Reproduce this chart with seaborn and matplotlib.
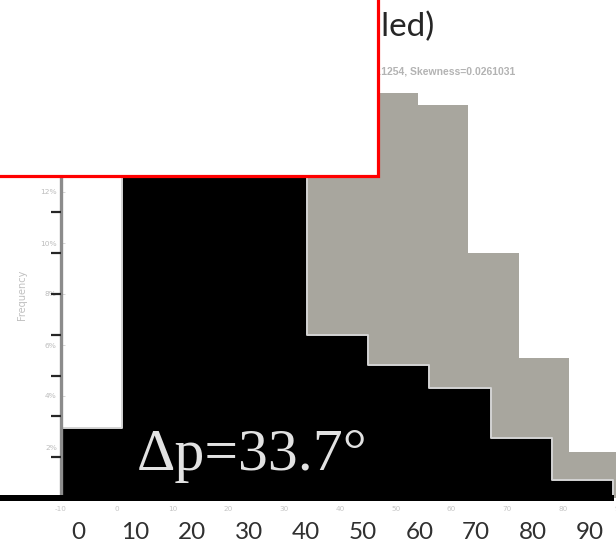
import numpy as np
import pandas as pd
import matplotlib
matplotlib.use("Agg")
import matplotlib.pyplot as plt
from matplotlib.patches import Rectangle
import seaborn as sns

# Reference histogram (grey): 9-degree bins from 0 to 90, in percent
gray_edges = [0, 9, 18, 27, 36, 45, 54, 63, 72, 81, 90]
gray_pct = [1.9, 6.0, 10.5, 16.0, 17.2, 15.9, 15.4, 9.6, 5.5, 1.8]

# Measured histogram (black): 11-degree bins from -10 to 89, in percent
black_edges = [-10, 1, 12, 23, 34, 45, 56, 67, 78, 89]
black_pct = [2.75, 24.0, 27.0, 26.0, 6.4, 5.2, 4.3, 2.35, 0.7]

pct_ticks = [2, 4, 6, 8, 10, 12, 14, 16, 18]
count_ticks = [1, 2, 3, 4, 5, 6, 7, 8, 9, 10, 11, 12]
small_xticks = list(range(-10, 100, 10))
big_xticks = list(range(0, 100, 10))

title_text = "Distribution (Scaled)"
stats_text = "Mean=45.0213, StdDev=18.1254, Skewness=0.0261031"
delta_text = "Δp=33.7°"

sns.set_theme(style="white")
plt.rcParams["font.family"] = ["DejaVu Sans"]

W, H = 616, 547
fig = plt.figure(figsize=(W / 100, H / 100), dpi=100)
fig.patch.set_facecolor("white")


def fx(px):
    return px / W


def fy(py):
    return 1 - py / H


rect = [fx(61), fy(498), (619 - 61) / W, 498 / H]
ax = fig.add_axes(rect)

gray_df = pd.DataFrame({
    "angle": [(a + b) / 2 for a, b in zip(gray_edges[:-1], gray_edges[1:])],
    "pct": gray_pct,
})
black_df = pd.DataFrame({
    "angle": [(a + b) / 2 for a, b in zip(black_edges[:-1], black_edges[1:])],
    "pct": black_pct,
})

sns.histplot(data=gray_df, x="angle", weights="pct", bins=gray_edges,
             element="step", fill=True, color="#a8a69e", alpha=1,
             linewidth=0, ax=ax)
sns.histplot(data=black_df, x="angle", weights="pct", bins=black_edges,
             element="step", fill=True, facecolor="black", alpha=1,
             edgecolor="#d4d4d4", linewidth=1.4, ax=ax)

ax.set_xlim(-10, 89.6)
ax.set_ylim(0, 498 / 25.5)
ax.set_facecolor("white")
for side in ["top", "right", "bottom"]:
    ax.spines[side].set_visible(False)
ax.spines["left"].set_color("#8c8c8c")
ax.spines["left"].set_linewidth(2.4)

ax.set_yticks(pct_ticks)
ax.set_yticklabels([f"{t}%" for t in pct_ticks])
ax.tick_params(axis="y", direction="in", length=3, width=0.6, color="#d0d0d0",
               labelsize=5.4, labelcolor="#bdbdbd", pad=3)
ax.set_xticks(small_xticks)
ax.set_xticklabels([str(t) for t in small_xticks])
ax.tick_params(axis="x", length=0, labelsize=5.2, labelcolor="#c4c4c4", pad=6)
ax.set_xlabel("")
ax.set_ylabel("Frequency", fontsize=7, color="#c0c0c0")
ax.yaxis.set_label_coords((27 - 61) / 558, (498 - 295) / 498)

# count scale of the measured histogram, tick marks only
ax2 = ax.twinx()
ax2.set_ylim(0, 498 / 40.8)
ax2.yaxis.tick_left()
ax2.set_yticks(count_ticks)
ax2.set_yticklabels([])
ax2.tick_params(axis="y", direction="out", length=7, width=1.6, color="#262626")
ax2.tick_params(axis="x", which="both", bottom=False, labelbottom=False)
for s in ax2.spines.values():
    s.set_visible(False)

# large degree scale below the plot
ax3 = fig.add_axes(rect)
ax3.patch.set_visible(False)
ax3.set_xlim(-17 / 5.689, 541 / 5.689)
ax3.set_ylim(0, 1)
ax3.set_yticks([])
ax3.set_xticks(big_xticks)
ax3.set_xticklabels([str(t) for t in big_xticks], family="Lato")
ax3.tick_params(axis="x", length=0, labelsize=17.5, labelcolor="#303030", pad=17.5)
for s in ax3.spines.values():
    s.set_visible(False)

# baseline band
fig.add_artist(Rectangle((0, fy(501)), fx(614), 6 / H, transform=fig.transFigure,
                         facecolor="black", edgecolor="none", zorder=4))

fig.text(fx(434), fy(36), title_text, ha="right", va="baseline",
         fontsize=24, family="Lato", color="#262626", zorder=5)
fig.text(fx(515), fy(71), stats_text, ha="right", va="center",
         fontsize=7.5, family="Liberation Sans", weight="bold",
         color="#b3b3b3", zorder=5)
fig.text(fx(137), fy(470), delta_text, ha="left", va="baseline",
         fontsize=43, family="Liberation Serif", color="#e2e2e2", zorder=6)

# white panel with red frame in the upper left
fig.add_artist(Rectangle((fx(-10), fy(175.5)), fx(377.5 + 10), 200 / H,
                         transform=fig.transFigure, facecolor="white",
                         edgecolor="#ff0000", linewidth=2.3, zorder=10))

fig.savefig("out.png", dpi=100, facecolor="white")
